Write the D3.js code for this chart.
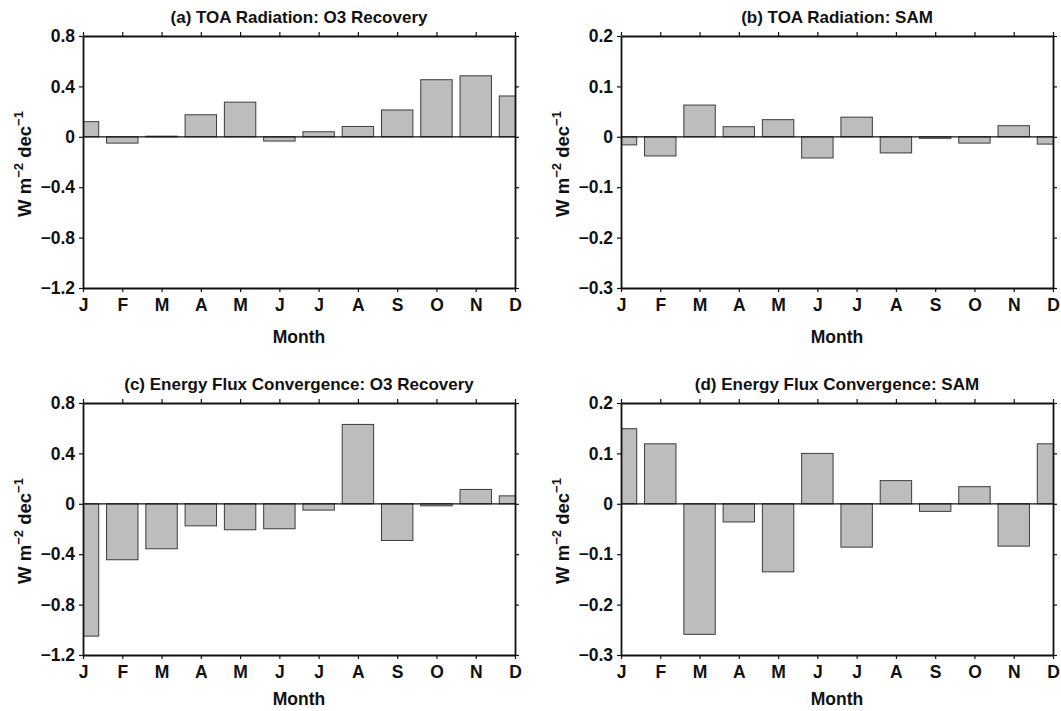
<!DOCTYPE html>
<html>
<head>
<meta charset="utf-8">
<script src="https://cdn.jsdelivr.net/npm/d3@7"></script>
<style>
  html, body { margin: 0; padding: 0; background: #fff; }
  svg { display: block; }
  text { font-family: "Liberation Sans", Arial, Helvetica, sans-serif; font-weight: bold; fill: #111; }
</style>
</head>
<body>
<svg id="chart" width="1061" height="711"></svg>
<script>
// Monthly trends (W m^-2 per decade)
const months = ["J", "F", "M", "A", "M", "J", "J", "A", "S", "O", "N", "D"];

const toaO3  = [0.12, -0.05, 0.005, 0.175, 0.275, -0.034, 0.04, 0.082, 0.213, 0.453, 0.484, 0.324];
const toaSAM = [-0.016, -0.038, 0.063, 0.020, 0.034, -0.042, 0.039, -0.032, -0.003, -0.0125, 0.022, -0.0145];
const efcO3  = [-1.05, -0.444, -0.357, -0.175, -0.206, -0.198, -0.05, 0.63, -0.291, -0.016, 0.114, 0.063];
const efcSAM = [0.149, 0.119, -0.259, -0.036, -0.135, 0.100, -0.086, 0.046, -0.015, 0.034, -0.084, 0.119];

const o3Ticks  = [0.8, 0.4, 0, -0.4, -0.8, -1.2];
const samTicks = [0.2, 0.1, 0, -0.1, -0.2, -0.3];

const titles = [
  "(a) TOA Radiation: O3 Recovery",
  "(b) TOA Radiation: SAM",
  "(c) Energy Flux Convergence: O3 Recovery",
  "(d) Energy Flux Convergence: SAM"
];

const panels = [
  { title: titles[0], values: toaO3,  ticks: o3Ticks,  left: 83,  top: 36,  monthGap: 55 },
  { title: titles[1], values: toaSAM, ticks: samTicks, left: 621, top: 36,  monthGap: 55 },
  { title: titles[2], values: efcO3,  ticks: o3Ticks,  left: 83,  top: 403, monthGap: 50 },
  { title: titles[3], values: efcSAM, ticks: samTicks, left: 621, top: 403, monthGap: 50 }
];

const W = 432, H = 252;
const svg = d3.select("#chart");
const fmt = v => v === 0 ? "0" : d3.format(".1f")(v);

panels.forEach((p, i) => {
  const g = svg.append("g").attr("transform", `translate(${p.left},${p.top})`);

  const x = d3.scalePoint().domain(d3.range(months.length)).range([0, W]);
  const y = d3.scaleLinear().domain([d3.min(p.ticks), d3.max(p.ticks)]).range([H, 0]);
  const bw = x.step() * 0.8;

  const clipId = "clip" + i;
  g.append("clipPath").attr("id", clipId)
    .append("rect").attr("x", 0).attr("y", 0).attr("width", W).attr("height", H);

  // bars
  g.append("g").attr("clip-path", `url(#${clipId})`)
    .selectAll("rect").data(p.values).join("rect")
    .attr("x", (d, k) => x(k) - bw / 2)
    .attr("width", bw)
    .attr("y", d => y(Math.max(0, d)))
    .attr("height", d => Math.abs(y(d) - y(0)))
    .attr("fill", "#bdbdbd")
    .attr("stroke", "#3c3c3c")
    .attr("stroke-width", 1);

  // zero line
  g.append("line")
    .attr("x1", 0).attr("x2", W)
    .attr("y1", y(0)).attr("y2", y(0))
    .attr("stroke", "#111").attr("stroke-width", 1.2);

  // axes on all four sides with outward ticks
  const axisStyle = sel => {
    sel.select(".domain").attr("stroke", "#111").attr("stroke-width", 1.8);
    sel.selectAll(".tick line").attr("stroke", "#111").attr("stroke-width", 1.2);
    sel.selectAll("text").attr("font-size", 17.5).attr("fill", "#111")
      .style("font-family", '"Liberation Sans", Arial, sans-serif').style("font-weight", "bold");
  };

  g.append("g").attr("transform", `translate(0,${H})`)
    .call(d3.axisBottom(x).tickFormat(k => months[k]).tickSize(4).tickSizeOuter(0).tickPadding(7))
    .call(axisStyle);
  g.append("g")
    .call(d3.axisTop(x).tickFormat("").tickSize(4).tickSizeOuter(0))
    .call(axisStyle);
  g.append("g")
    .call(d3.axisLeft(y).tickValues(p.ticks).tickFormat(fmt).tickSize(4).tickSizeOuter(0).tickPadding(4))
    .call(axisStyle);
  g.append("g").attr("transform", `translate(${W},0)`)
    .call(d3.axisRight(y).tickValues(p.ticks).tickFormat("").tickSize(4).tickSizeOuter(0))
    .call(axisStyle);

  // title
  g.append("text")
    .attr("x", W / 2).attr("y", -13)
    .attr("text-anchor", "middle")
    .attr("font-size", 17)
    .text(p.title);

  // x-axis title
  g.append("text")
    .attr("x", W / 2).attr("y", H + p.monthGap)
    .attr("text-anchor", "middle")
    .attr("font-size", 17.5)
    .text("Month");

  // y-axis title with superscripts
  const yl = g.append("text")
    .attr("transform", `translate(-52,${H / 2 + 2}) rotate(-90)`)
    .attr("text-anchor", "middle")
    .attr("font-size", 18.5);
  yl.append("tspan").text("W m");
  yl.append("tspan").attr("dy", -8).attr("font-size", 13).text("\u22122");
  yl.append("tspan").attr("dy", 8).text(" dec");
  yl.append("tspan").attr("dy", -8).attr("font-size", 13).text("\u22121");
});
</script>
</body>
</html>
